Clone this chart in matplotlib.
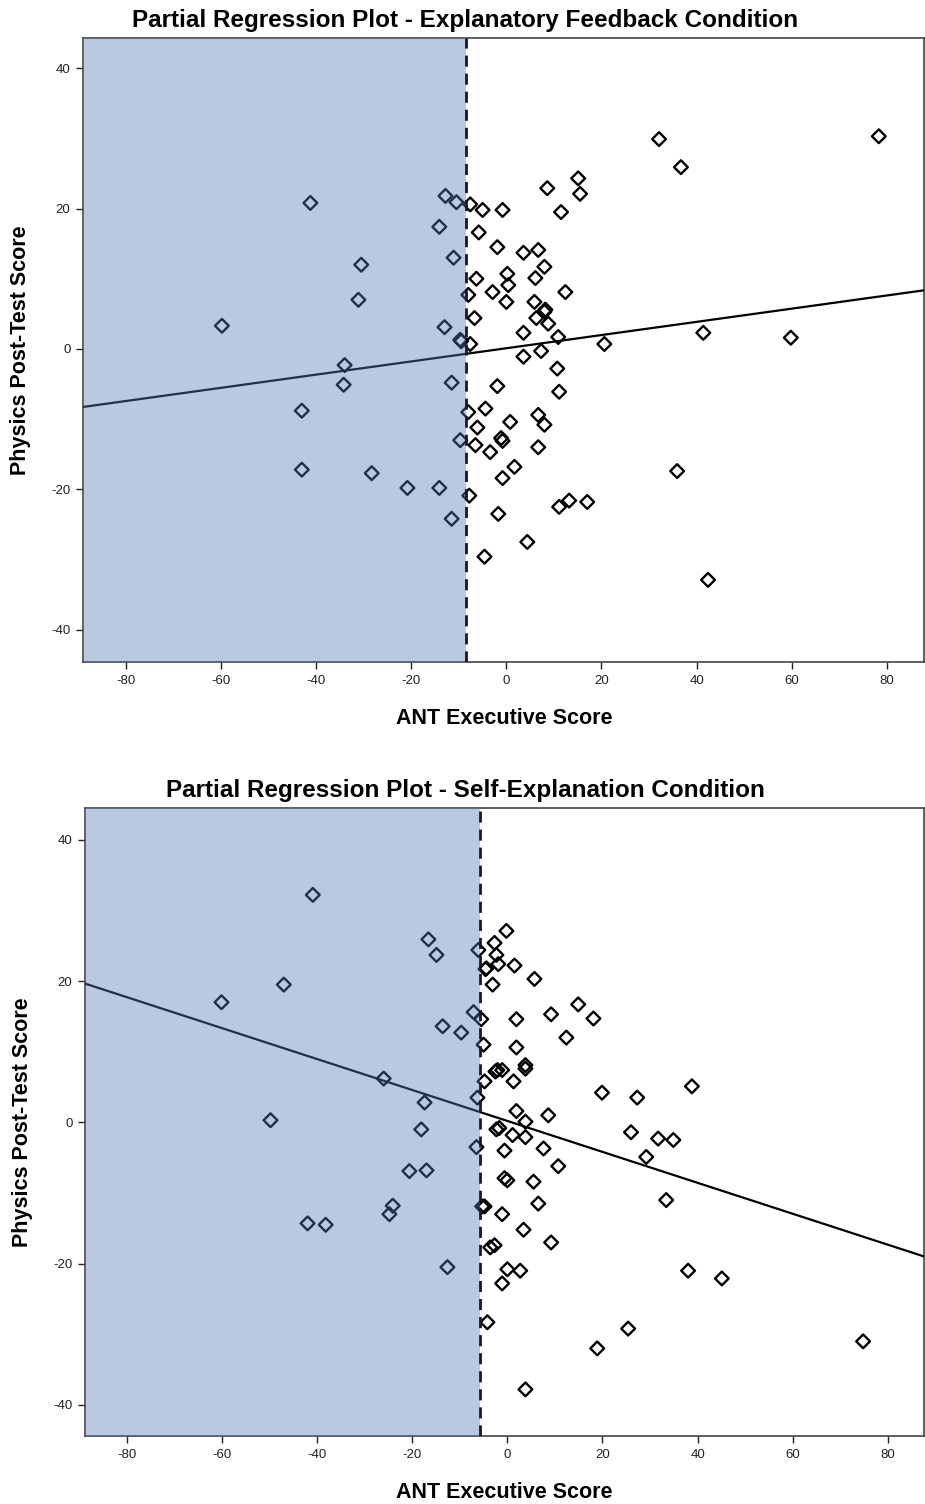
import matplotlib
matplotlib.use("Agg")
import matplotlib.pyplot as plt
import numpy as np

plt.rcParams['font.family'] = ['Liberation Sans', 'DejaVu Sans']
plt.rcParams['axes.unicode_minus'] = False

# ---------------- Data: Explanatory Feedback Condition ----------------
ef_x = [-59.8, -41.2, -30.5, -31.1, -34.0, -34.2, -43.0, -43.0, -28.3, -20.8,
        -14.1, -11.5, -12.8, -10.5, -14.1, -11.1, -13.0, -9.7, -11.5, -9.7,
        -8.0, -7.8, -9.5, -7.6, -7.6, -5.0, -5.8, -1.9, 3.6, 6.7,
        8.0, 6.1, 0.2, 0.4, -6.3, -2.9, -8.0, 0.0, 5.9, 12.4,
        8.2, 8.0, 6.3, 8.8, -6.7, 3.6, 10.9, 20.6, 41.4, 59.8,
        3.6, 7.3, 10.7, -1.9, 11.1, -4.4, -6.1, 0.8, 6.7, 8.0,
        -6.5, -1.1, -0.8, -3.4, 6.7, 1.7, -0.8, -1.7, 11.1, 13.2,
        17.0, 4.4, -4.6, 35.9, 42.4, 32.1, 36.7, 78.3, 8.6, 15.1,
        15.5, 11.5, -0.8]
ef_y = [3.3, 20.8, 12.0, 7.0, -2.3, -5.1, -8.8, -17.2, -17.7, -19.8,
        -19.8, -24.2, 21.8, 20.9, 17.4, 13.0, 3.1, 1.3, -4.8, -13.0,
        -9.0, -20.9, 1.1, 0.7, 20.6, 19.8, 16.6, 14.5, 13.7, 14.1,
        11.7, 10.1, 10.7, 9.1, 10.0, 8.1, 7.7, 6.7, 6.7, 8.1,
        5.6, 5.3, 4.4, 3.6, 4.4, 2.3, 1.7, 0.7, 2.3, 1.6,
        -1.1, -0.3, -2.8, -5.3, -6.1, -8.5, -11.2, -10.4, -9.4, -10.8,
        -13.7, -12.7, -13.1, -14.7, -14.0, -16.8, -18.4, -23.5, -22.5, -21.6,
        -21.8, -27.5, -29.6, -17.4, -32.9, 29.9, 25.9, 30.3, 22.9, 24.3,
        22.1, 19.5, 19.8]
ef_fit = (0.094, 0.1)      # slope, intercept of fit line
ef_cut = -8.4              # shaded region upper bound

# ---------------- Data: Self-Explanation Condition ----------------
se_x = [-40.9, -16.6, -14.9, -47.0, -60.1, -6.1, -4.6, -3.1, -7.1, -5.5,
        -13.6, -9.7, -5.0, -4.8, -2.5, -26.0, -6.3, -17.4, -18.1, -49.8,
        -6.5, -2.3, -0.2, -2.7, -2.3, -1.9, 1.5, -4.4, 5.7, 14.9,
        9.2, 18.1, 1.9, 12.4, 1.9, 3.8, 3.8, -2.1, -1.1, 1.3,
        19.9, 27.3, 38.8, 1.9, 3.8, 8.6, -1.7, 1.1, 3.8, 26.0,
        31.7, 34.9, 29.2, -0.6, 7.6, 10.7, -0.6, 0.0, 5.5, -4.8,
        -5.3, 6.5, -1.1, 33.4, 3.4, 9.2, -3.6, -2.7, -12.6, 0.0,
        2.7, -1.1, 38.0, 45.1, -4.2, 25.4, 18.9, 74.8, 3.8, -20.6,
        -17.0, -24.1, -24.8, -42.0, -38.2]
se_y = [32.2, 25.9, 23.7, 19.5, 17.0, 24.4, 21.7, 19.5, 15.6, 14.6,
        13.6, 12.7, 11.0, 5.8, 7.2, 6.2, 3.5, 2.8, -1.0, 0.3,
        -3.5, -1.0, 27.1, 25.4, 23.7, 22.4, 22.2, 21.8, 20.3, 16.7,
        15.3, 14.7, 14.6, 12.0, 10.6, 8.1, 7.6, 7.4, 7.4, 5.8,
        4.2, 3.5, 5.1, 1.6, 0.1, 1.0, -0.8, -1.8, -2.1, -1.4,
        -2.3, -2.5, -4.9, -4.0, -3.7, -6.2, -7.9, -8.2, -8.4, -11.9,
        -11.9, -11.5, -13.0, -11.0, -15.2, -17.0, -17.7, -17.4, -20.5, -20.8,
        -21.0, -22.8, -21.0, -22.1, -28.3, -29.2, -32.0, -31.0, -37.8, -6.9,
        -6.8, -11.8, -13.0, -14.3, -14.5]
se_fit = (-0.219, 0.2)
se_cut = -5.7

titles = ["Partial Regression Plot - Explanatory Feedback Condition",
          "Partial Regression Plot - Self-Explanation Condition"]
xlabel = "ANT Executive Score"
ylabel = "Physics Post-Test Score"
xticks = [-80, -60, -40, -20, 0, 20, 40, 60, 80]
yticks = [-40, -20, 0, 20, 40]

fig = plt.figure(figsize=(9.25, 15.04), dpi=100)

panels = [
    dict(x=ef_x, y=ef_y, fit=ef_fit, cut=ef_cut, title=titles[0],
         rect=[83/925, 1-662/1504, 841/925, 624/1504],
         xlim=(-89.0, 87.8), ylim=(-44.6, 44.3), ty=1-20/1504, xly=1-718/1504),
    dict(x=se_x, y=se_y, fit=se_fit, cut=se_cut, title=titles[1],
         rect=[85/925, 1-1436/1504, 839/925, 628/1504],
         xlim=(-88.8, 87.6), ylim=(-44.4, 44.5), ty=1-790/1504, xly=1-1493/1504),
]

for p in panels:
    ax = fig.add_axes(p['rect'])
    ax.set_xlim(*p['xlim'])
    ax.set_ylim(*p['ylim'])
    ax.scatter(p['x'], p['y'], marker='D', s=49, facecolors='none',
               edgecolors='black', linewidths=1.7, zorder=3)
    xs = np.array(p['xlim'])
    slope, icpt = p['fit']
    ax.plot(xs, icpt + slope * xs, color='black', lw=1.6, zorder=4)
    ax.axvspan(p['xlim'][0], p['cut'], color=(0.33, 0.47, 0.70), alpha=0.40,
               lw=0, zorder=5)
    ax.axvline(p['cut'], color='#1a1a1a', lw=2.0, ls=(0, (4, 2.5)), zorder=6)
    ax.set_xticks(xticks)
    ax.set_yticks(yticks)
    ax.tick_params(axis='both', direction='out', length=5, width=1,
                   labelsize=9.5, colors='#222222', pad=4)
    for s in ['left', 'bottom', 'top', 'right']:
        ax.spines[s].set_color('#444444')
        ax.spines[s].set_linewidth(1.2)
    ax.set_ylabel(ylabel, fontsize=15.5, fontweight='bold')
    ax.yaxis.set_label_coords(-52/841, 0.5)
    fig.text(0.5455, p['xly'], xlabel, ha='center', va='center',
             fontsize=15.5, fontweight='bold')
    fig.text(0.503, p['ty'], p['title'], ha='center', va='center',
             fontsize=17.5, fontweight='bold')

fig.savefig("out.png", dpi=100)
